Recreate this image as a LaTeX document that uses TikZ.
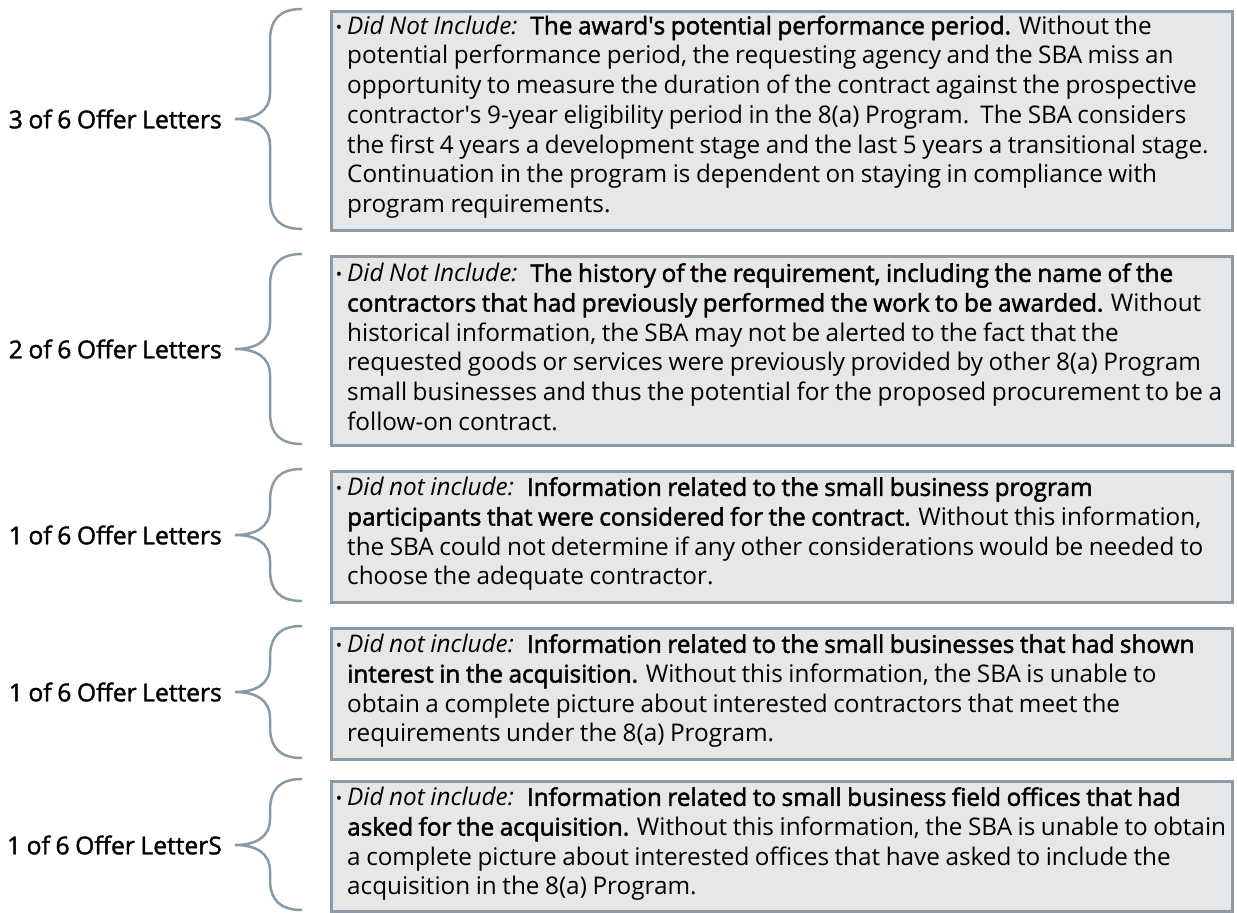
\documentclass[tikz,border=0pt]{standalone}
\usepackage{fontspec}
\setmainfont{Open Sans}[WordSpace=0.88, BoldFont=Open Sans, BoldFeatures={FakeBold=2}]
\usepackage{xcolor}
\usetikzlibrary{positioning}

\definecolor{boxline}{HTML}{8C9BA6}
\definecolor{boxfill}{HTML}{E6E7E9}
\definecolor{bracecol}{HTML}{8A9AA5}
\newcommand{\smallbullet}{\llap{\raisebox{1pt}{\fontsize{17}{17}\selectfont\textbullet}\hspace{5pt}}}
\newcommand{\didnot}[1]{\smallbullet\textit{#1}\hspace{13pt}}

\tikzset{
	box/.style={draw=boxline, fill=boxfill, line width=3pt, minimum width=901pt, anchor=north west, inner sep=0pt},
	txt/.style={align=left, anchor=west, inner sep=0pt, font=\fontsize{24.3}{29.7}\selectfont},
	lbl/.style={anchor=east, inner sep=0pt, font=\fontsize{24.6}{29.7}\selectfont\addfontfeature{FakeBold=1.6}},
	offerbrace/.style={draw=bracecol, line width=2.5pt}
}

\begin{document}
\begin{tikzpicture}[x=1pt, y=-1pt]
		\useasboundingbox (0,0) rectangle (1237,913);

		% boxes
		\node[box, minimum height=219pt] (box1) at (329.5,9.5)   {};
		\node[box, minimum height=189pt] (box2) at (329.5,254.5) {};
		\node[box, minimum height=131pt] (box3) at (329.5,469.5) {};
		\node[box, minimum height=131pt] (box4) at (329.5,626.5) {};
		\node[box, minimum height=130pt] (box5) at (329.5,779.5) {};

		% texts
		\node[txt] (txt1) at (347,117) {\didnot{Did Not Include:}\textbf{The award\textquotesingle s potential performance period.} Without the\\
			potential performance period, the requesting agency and the SBA miss an\\
			opportunity to measure the duration of the contract against the prospective\\
			contractor\textquotesingle s 9-year eligibility period in the 8(a) Program.\ \ The SBA considers\\
			the first 4 years a development stage and the last 5 years a transitional stage.\\
			Continuation in the program is dependent on staying in compliance with\\
			program requirements.};
		\node[txt] (txt2) at (347,347) {\didnot{Did Not Include:}\textbf{The history of the requirement, including the name of the}\\
			\textbf{contractors that had previously performed the work to be awarded.} Without\\
			historical information, the SBA may not be alerted to the fact that the\\
			requested goods or services were previously provided by other 8(a) Program\\
			small businesses and thus the potential for the proposed procurement to be a\\
			follow-on contract.};
		\node[txt] (txt3) at (347,534) {\didnot{Did not include:}\textbf{Information related to the small business program}\\
			\textbf{participants that were considered for the contract.} Without this information,\\
			the SBA could not determine if any other considerations would be needed to\\
			choose the adequate contractor.};
		\node[txt] (txt4) at (347,691) {\didnot{Did not include:}\textbf{Information related to the small businesses that had shown}\\
			\textbf{interest in the acquisition.} Without this information, the SBA is unable to\\
			obtain a complete picture about interested contractors that meet the\\
			requirements under the 8(a) Program.};
		\node[txt] (txt5) at (347,844) {\didnot{Did not include:}\textbf{Information related to small business field offices that had}\\
			\textbf{asked for the acquisition.} Without this information, the SBA is unable to obtain\\
			a complete picture about interested offices that have asked to include the\\
			acquisition in the 8(a) Program.};

		% labels
		\node[lbl] (lab1) at (222,119) {3 of 6 Offer Letters};
		\node[lbl] (lab2) at (222,349) {2 of 6 Offer Letters};
		\node[lbl] (lab3) at (222,535) {1 of 6 Offer Letters};
		\node[lbl] (lab4) at (222,692) {1 of 6 Offer Letters};
		\node[lbl] (lab5) at (222,845) {1 of 6 Offer LetterS};

		% braces
		\draw[offerbrace] (302,9) .. controls (280,9) and (270,19) .. (270,41) -- (270,93)
			.. controls (270,111) and (256,119) .. (235,119) .. controls (256,119) and (270,127) .. (270,145)
			-- (270,197) .. controls (270,219) and (280,229) .. (302,229);
		\draw[offerbrace] (302,254) .. controls (280,254) and (270,264) .. (270,286) -- (270,323)
			.. controls (270,341) and (256,349) .. (235,349) .. controls (256,349) and (270,357) .. (270,375)
			-- (270,412) .. controls (270,434) and (280,444) .. (302,444);
		\draw[offerbrace] (302,469) .. controls (280,469) and (270,479) .. (270,501) -- (270,509)
			.. controls (270,527) and (256,535) .. (235,535) .. controls (256,535) and (270,543) .. (270,561)
			-- (270,569) .. controls (270,591) and (280,601) .. (302,601);
		\draw[offerbrace] (302,626) .. controls (280,626) and (270,636) .. (270,658) -- (270,666)
			.. controls (270,684) and (256,692) .. (235,692) .. controls (256,692) and (270,700) .. (270,718)
			-- (270,726) .. controls (270,748) and (280,758) .. (302,758);
		\draw[offerbrace] (302,779) .. controls (280,779) and (270,789) .. (270,811) -- (270,819)
			.. controls (270,837) and (256,845) .. (235,845) .. controls (256,845) and (270,853) .. (270,871)
			-- (270,879) .. controls (270,900) and (280,910) .. (302,910);
	\end{tikzpicture}
\end{document}
